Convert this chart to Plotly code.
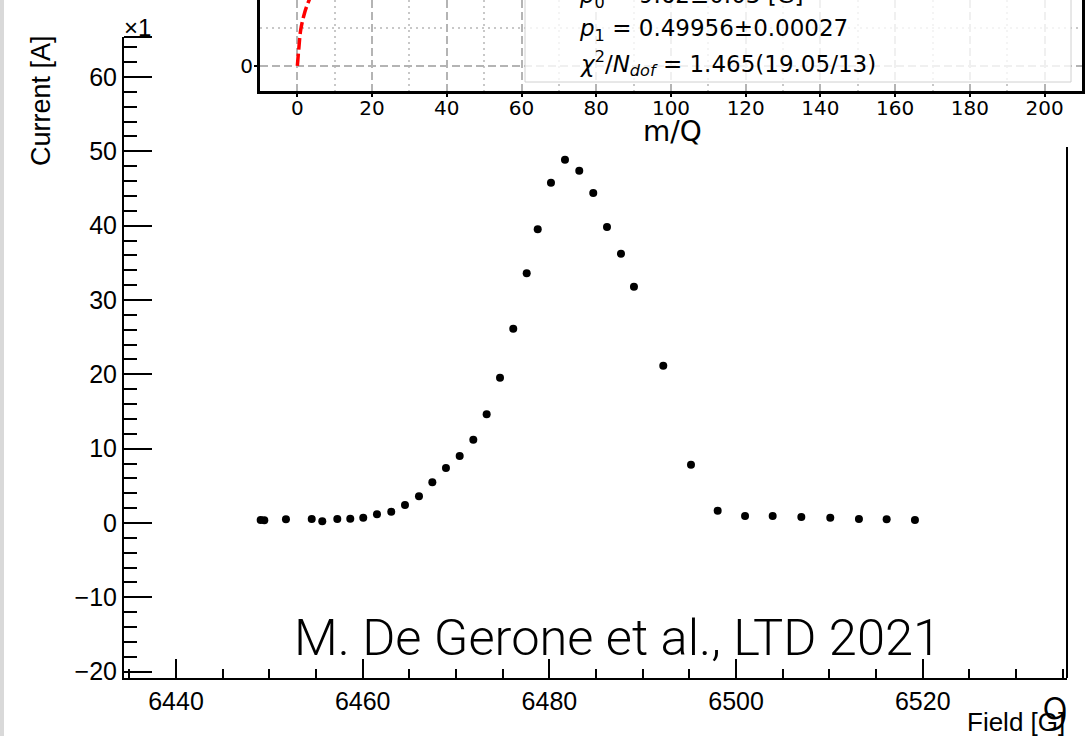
import plotly.graph_objects as go

# ---- scan data: magnet field [G] vs beam current [A] ----
field = [6449.07, 6449.46, 6451.78, 6454.54, 6455.67, 6457.28, 6458.67, 6460.06,
         6461.53, 6463.06, 6464.53, 6466.03, 6467.46, 6468.92, 6470.39, 6471.85,
         6473.28, 6474.71, 6476.13, 6477.57, 6478.75, 6480.17, 6481.67, 6483.20,
         6484.70, 6486.17, 6487.67, 6489.06, 6492.20, 6495.17, 6498.03, 6500.96,
         6503.92, 6506.99, 6510.09, 6513.16, 6516.13, 6519.16]
current = [0.40, 0.36, 0.50, 0.54, 0.23, 0.54, 0.58, 0.71,
           1.17, 1.52, 2.42, 3.59, 5.48, 7.40, 9.01, 11.21,
           14.62, 19.55, 26.14, 33.59, 39.51, 45.78, 48.88, 47.40,
           44.40, 39.82, 36.23, 31.79, 21.16, 7.84, 1.65, 0.94,
           0.94, 0.81, 0.71, 0.54, 0.50, 0.40]

# ---- calibration inset: fitted field curve vs m/Q ----
fit_mq = [0.0, 0.4, 0.9, 2.0, 2.85, 4.0]
fit_b = [0.0, 4.7, 9.5, 14.2, 16.6, 19.3]
fit_lines = [
    "<i>p</i><sub>0</sub> = 9.62±0.03 [G]",
    "<i>p</i><sub>1</sub> = 0.49956±0.00027",
    "<i>χ</i><sup>2</sup>/<i>N</i><sub><i>dof</i></sub> = 1.465(19.05/13)",
]

W, H = 1086, 736


def fx(px):
    return px / W


def fy(py):
    return 1 - py / H


ROOT_FONT = "Liberation Sans, Arial, sans-serif"
MPL_FONT = "DejaVu Sans, sans-serif"

fig = go.Figure()

fig.add_trace(go.Scatter(
    x=field, y=current, mode="markers",
    marker=dict(color="black", size=8, line=dict(width=0)),
    xaxis="x", yaxis="y", showlegend=False,
))

fig.add_trace(go.Scatter(
    x=fit_mq, y=fit_b, mode="lines",
    line=dict(color="#ff0000", width=3.5, dash="12px,4px", shape="spline"),
    xaxis="x2", yaxis="y2", showlegend=False,
))

fig.update_layout(
    width=W, height=H, autosize=False,
    margin=dict(l=0, r=0, t=0, b=0, pad=0),
    paper_bgcolor="white",
    plot_bgcolor="white",
    font=dict(family=ROOT_FONT, color="black"),
    xaxis=dict(
        domain=[fx(124), fx(1067)], anchor="y",
        range=[6434.43, 6535.45],
        tick0=6440, dtick=20,
        ticks="inside", ticklen=19, tickwidth=2, tickcolor="black",
        minor=dict(ticks="inside", ticklen=9.5, dtick=5, tickwidth=2, tickcolor="black"),
        showline=True, linecolor="black", linewidth=2,
        showgrid=False, zeroline=False, automargin=False,
        tickfont=dict(size=25, family=ROOT_FONT, color="black"),
    ),
    yaxis=dict(
        domain=[fy(678), fy(37)], anchor="x",
        range=[-20.85, 65.38],
        tick0=0, dtick=10,
        ticks="inside", ticklen=28, tickwidth=2, tickcolor="black",
        minor=dict(ticks="inside", ticklen=13, dtick=2, tickwidth=2, tickcolor="black"),
        showline=True, linecolor="black", linewidth=2,
        showgrid=False, zeroline=False, automargin=False,
        tickfont=dict(size=25, family=ROOT_FONT, color="black"),
    ),
    xaxis2=dict(
        domain=[fx(260), fx(1082)], anchor="y2",
        range=[-10, 210],
        tick0=0, dtick=20,
        ticks="outside", ticklen=3, tickwidth=1.5, tickcolor="black",
        ticklabelstandoff=-6,
        showline=True, linecolor="black", linewidth=3, mirror=False,
        showgrid=True, gridcolor="#b4b4b4", gridwidth=1.5, griddash="8px,4px",
        minor=dict(showgrid=True, dtick=10, gridcolor="#c8c8c8", gridwidth=1.5,
                   griddash="2px,4px"),
        zeroline=False, automargin=False,
        tickfont=dict(size=20, family=MPL_FONT, color="black"),
    ),
    yaxis2=dict(
        domain=[fy(91), 1.0], anchor="x2",
        range=[-6.6, 17.35],
        tick0=0, dtick=20,
        ticks="outside", ticklen=3, tickwidth=1.5, tickcolor="black",
        ticklabelstandoff=-3,
        showline=True, linecolor="black", linewidth=3, mirror=True,
        showgrid=True, gridcolor="#b4b4b4", gridwidth=1.5, griddash="8px,4px",
        minor=dict(showgrid=True, dtick=10, gridcolor="#c8c8c8", gridwidth=1.5,
                   griddash="2px,4px"),
        zeroline=False, automargin=False,
        tickfont=dict(size=20, family=MPL_FONT, color="black"),
    ),
)

shapes = [
    # slide edge strip
    dict(type="rect", xref="paper", yref="paper", x0=0, x1=fx(4), y0=0, y1=1,
         fillcolor="#d9d9d9", line=dict(width=0), layer="below"),
    # visible pieces of the main frame around the inset
    dict(type="line", xref="paper", yref="paper", x0=fx(124), x1=fx(152),
         y0=fy(37), y1=fy(37), line=dict(color="black", width=2)),
    dict(type="line", xref="paper", yref="paper", x0=fx(1067), x1=fx(1067),
         y0=fy(147), y1=fy(678), line=dict(color="black", width=2)),
    # fit result box of the inset
    dict(type="rect", xref="paper", yref="paper", x0=fx(525), x1=fx(1071),
         y0=fy(82), y1=fy(-10), fillcolor="rgba(255,255,255,0.8)",
         line=dict(color="#d0d0d0", width=1), layer="above"),
]
fig.update_layout(shapes=shapes)

annotations = [
    dict(text="Current [A]", x=fx(41), y=fy(101), textangle=-90,
         font=dict(size=27, family=ROOT_FONT)),
    dict(text="×1", x=fx(137), y=fy(27), font=dict(size=24, family=ROOT_FONT)),
    dict(text="Field [G]", x=fx(1067), y=fy(722), xanchor="right",
         font=dict(size=26, family=ROOT_FONT)),
    dict(text="M. De Gerone et al., LTD 2021", x=fx(617), y=fy(637),
         font=dict(size=50.6, family="Roboto, sans-serif", weight=300)),
    dict(text="9", x=fx(1055), y=fy(714),
         font=dict(size=48, family="Roboto, sans-serif", weight=300)),
    dict(text="m/Q", x=fx(672), y=fy(131), font=dict(size=28, family=MPL_FONT)),
]
for i, line in enumerate(fit_lines):
    annotations.append(dict(text=line, x=fx(577), y=fy(-3 + 33 * i),
                            xanchor="left", font=dict(size=23, family=MPL_FONT)))
for a in annotations:
    a.update(xref="paper", yref="paper", showarrow=False)
    a.setdefault("xanchor", "center")
    a.setdefault("yanchor", "middle")
fig.update_layout(annotations=annotations)

fig.write_html("out.html", config={"responsive": False})
